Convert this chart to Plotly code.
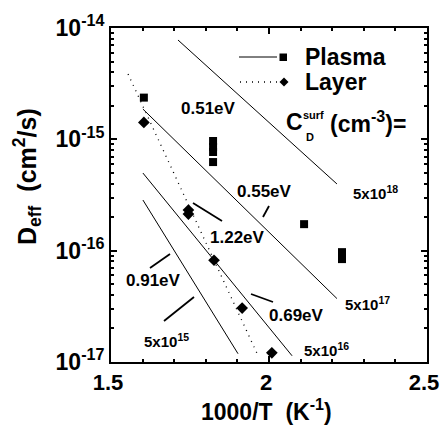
import numpy as np
import plotly.graph_objects as go

# ---- measured diffusivities ----
plasma_x = [1.604, 1.823, 1.823, 1.823, 1.823, 2.111, 2.231, 2.231]
plasma_D = [2.37e-15, 9.66e-16, 8.53e-16, 7.69e-16, 6.25e-16, 1.73e-16, 9.7e-17, 8.4e-17]

layer_x = [1.604, 1.745, 1.745, 1.826, 1.915, 2.009]
layer_D = [1.42e-15, 2.32e-16, 2.13e-16, 8.2e-17, 3.05e-17, 1.21e-17]

# ---- Arrhenius fits (activation energy, anchor point, end of segment) ----
fit_ea = [0.51, 0.55, 0.69, 0.91]
fit_x0 = [1.712, 1.601, 1.601, 1.601]
fit_D0 = [7.8e-15, 1.87e-15, 4.98e-16, 2.85e-16]
fit_x1 = [2.215, 2.215, 2.073, 1.902]
fit_csurf = ["5x10<sup>18</sup>", "5x10<sup>17</sup>", "5x10<sup>16</sup>", "5x10<sup>15</sup>"]

layer_ea = 1.22
layer_x0, layer_D0, layer_x1 = 1.554, 3.86e-15, 1.965

K_B = 8.617e-5  # eV/K

# axis ticks
x_ticks = [1.5, 2, 2.5]
x_ticktext = ["1.5", "2", "2.5"]
y_exps = [-17, -16, -15, -14]


def arrhenius(ea, x0, d0, x1):
    x = np.array([x0, x1])
    return x, d0 * np.exp(-ea * (x - x0) / (1000 * K_B))


FONT = "Liberation Sans, Arial, sans-serif"
W, H = 441, 425
L, R, T, B = 111, 427, 28, 362


def px(xp):
    return (xp - L) / (R - L)


def py(yp):
    return (B - yp) / (B - T)


fig = go.Figure()

for ea, x0, d0, x1 in zip(fit_ea, fit_x0, fit_D0, fit_x1):
    xs, ds = arrhenius(ea, x0, d0, x1)
    fig.add_trace(go.Scatter(x=xs, y=ds, mode="lines",
                             line=dict(color="black", width=1), showlegend=False))

xs, ds = arrhenius(layer_ea, layer_x0, layer_D0, layer_x1)
fig.add_trace(go.Scatter(x=xs, y=ds, mode="lines",
                         line=dict(color="black", width=1.3, dash="1px,5px"),
                         showlegend=False))

fig.add_trace(go.Scatter(x=plasma_x, y=plasma_D, mode="markers",
                         marker=dict(symbol="square", size=8, color="black"),
                         showlegend=False))
fig.add_trace(go.Scatter(x=layer_x, y=layer_D, mode="markers",
                         marker=dict(symbol="diamond", size=9, color="black"),
                         showlegend=False))

shapes = []
annotations = []


def label(text, x, y, size=17, **kw):
    annotations.append(dict(text=text, x=px(x), y=py(y), xref="paper", yref="paper",
                            showarrow=False, xanchor=kw.pop("xanchor", "center"),
                            yanchor="middle",
                            font=dict(family=FONT, size=size, color="black", weight="bold"),
                            **kw))


def pointer(x0, y0, x1, y1):
    shapes.append(dict(type="line", xref="paper", yref="paper",
                       x0=px(x0), y0=py(y0), x1=px(x1), y1=py(y1),
                       line=dict(color="black", width=1.8)))


# activation energy labels and pointers
label("0.51eV", 208, 108)
label("0.55eV", 264, 191)
pointer(269, 206, 263, 217)
label("1.22eV", 237, 237)
pointer(222, 221, 193, 203)
label("0.91eV", 153, 280)
pointer(150, 268, 170, 254)
label("0.69eV", 296, 315)
pointer(273, 302, 251, 294)

# surface concentration labels
label(fit_csurf[0], 375, 193, size=15)
label(fit_csurf[1], 367, 303, size=15)
label(fit_csurf[2], 326, 349, size=15)
label(fit_csurf[3], 166, 340, size=15)
pointer(164, 321, 194, 297)

# C_D^surf with stacked sub/superscript
label("C", 284, 122, size=23, xanchor="left")
label("surf", 301, 115, size=11, xanchor="left")
label("D", 304, 137, size=11, xanchor="left")
label("(cm<sup>-3</sup>)=", 328, 122, size=23, xanchor="left")

# legend
shapes.append(dict(type="line", xref="paper", yref="paper",
                   x0=px(239), x1=px(277), y0=py(57), y1=py(57),
                   line=dict(color="black", width=1)))
shapes.append(dict(type="rect", xref="paper", yref="paper",
                   x0=px(279.5), x1=px(287), y0=py(53.5), y1=py(61),
                   fillcolor="black", line=dict(width=0)))
shapes.append(dict(type="line", xref="paper", yref="paper",
                   x0=px(240), x1=px(277), y0=py(82), y1=py(82),
                   line=dict(color="black", width=1.3, dash="1px,5px")))
cx, cy = 284, 82
shapes.append(dict(type="path", xref="paper", yref="paper",
                   path=f"M {px(cx-4.5)} {py(cy)} L {px(cx)} {py(cy-4.5)} "
                        f"L {px(cx+4.5)} {py(cy)} L {px(cx)} {py(cy+4.5)} Z",
                   fillcolor="black", line=dict(width=0)))
label("Plasma", 303, 57, size=23, xanchor="left")
label("Layer", 303, 82, size=23, xanchor="left")

# axis titles
label("D<sub>eff</sub>  (cm<sup>2</sup>/s)", 27, 177, size=25, textangle=-90)
label("1000/T  (K<sup>-1</sup>)", 266, 410, size=23)

fig.update_layout(
    width=W, height=H,
    margin=dict(l=L, r=W - R, t=T, b=H - B),
    paper_bgcolor="white", plot_bgcolor="white",
    shapes=shapes, annotations=annotations,
    font=dict(family=FONT, color="black", weight="bold"),
)

fig.update_xaxes(
    range=[1.5, 2.5], tickvals=x_ticks, ticktext=x_ticktext,
    ticks="inside", ticklen=6, tickwidth=1.5, tickcolor="black",
    minor=dict(dtick=0.1, ticks="inside", ticklen=3, tickcolor="black"),
    showline=True, linewidth=2, linecolor="black", mirror="ticks",
    showgrid=False, zeroline=False, ticklabeloverflow="allow",
    ticklabelshift=-3, automargin=False,
    tickfont=dict(family=FONT, size=22, color="black", weight="bold"),
)
fig.update_yaxes(
    type="log", range=[-17, -14],
    tickvals=[10.0 ** e for e in y_exps],
    ticktext=[f"10<sup>{e}</sup>" for e in y_exps],
    ticks="inside", ticklen=6, tickwidth=1.5, tickcolor="black",
    minor=dict(dtick="D1", ticks="inside", ticklen=3, tickcolor="black"),
    showline=True, linewidth=2, linecolor="black", mirror="ticks",
    showgrid=False, zeroline=False, automargin=False,
    tickfont=dict(family=FONT, size=23, color="black", weight="bold"),
)

fig.write_html("out.html")
